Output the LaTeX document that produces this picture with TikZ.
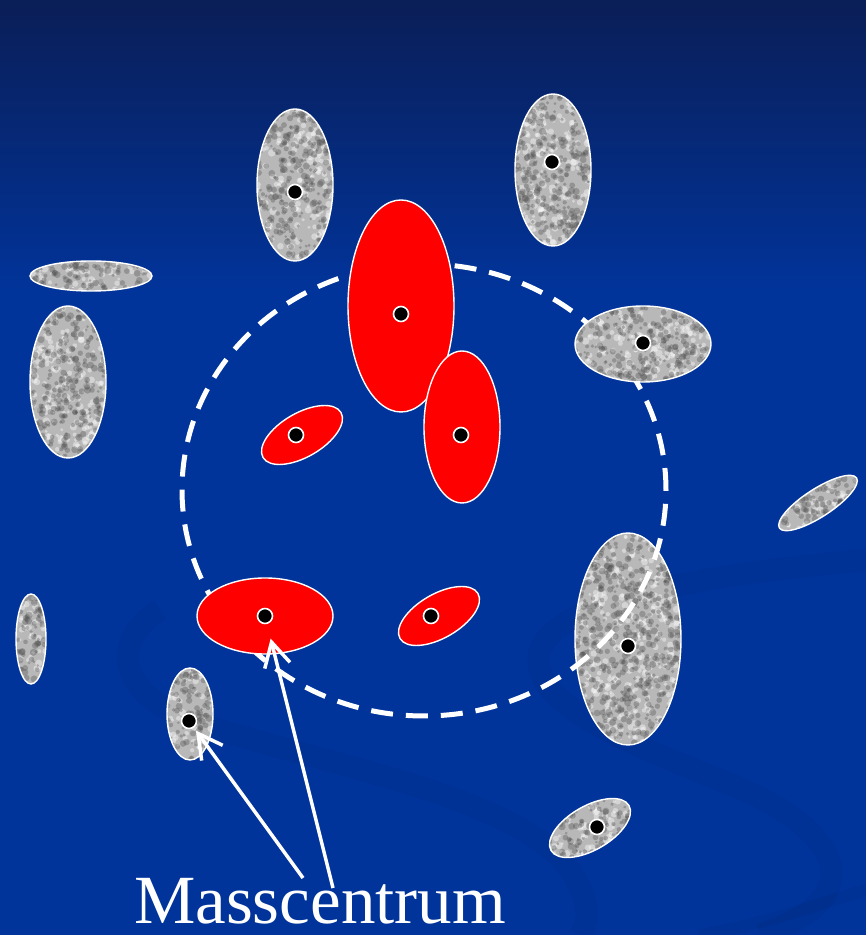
\documentclass[tikz,border=0pt]{standalone}
\usepackage{fontspec}
\setmainfont{Liberation Serif}
\usetikzlibrary{arrows.meta}
\definecolor{bgtop}{HTML}{0A1E57}
\definecolor{bgblue}{HTML}{01349B}
\definecolor{swirlc}{HTML}{002A82}
\definecolor{grbase}{HTML}{B8B8B8}
\definecolor{grdark}{HTML}{505050}
\definecolor{redfill}{HTML}{FF0000}
\tikzset{
  dotnode/.style={circle, fill=black, draw=white, line width=1.6pt, minimum size=15pt, inner sep=0pt},
  arr/.style={white, line width=3.5pt, -{Straight Barb[length=24pt,width=26pt]}},
  ellborder/.style={white, line width=1.4pt},
  swirl/.style={swirlc, opacity=.28, line width=22pt},
}
\newcommand\grayell[5]{%
  \begin{scope}[shift={(#1,935-#2)},rotate=#5]
    \begin{scope}
      \clip (0,0) ellipse ({#3pt} and {#4pt});
      \fill[grbase] (-#3,-#4) rectangle (#3,#4);
      \pgfmathtruncatemacro\nd{#3*#4/9}
      \pgfmathtruncatemacro\nl{#3*#4/16}
      \foreach \k in {1,...,\nl}{\fill[white,opacity=.4] ({#3*rand},{#4*rand}) circle ({(1.5+2.2*rnd)*1pt});}
      \foreach \k in {1,...,\nd}{\fill[grdark,opacity=.35] ({#3*rand},{#4*rand}) circle ({(1.4+2.2*rnd)*1pt});}
    \end{scope}
    \draw[ellborder] (0,0) ellipse ({#3pt} and {#4pt});
  \end{scope}}
\newcommand\redell[5]{%
  \begin{scope}[shift={(#1,935-#2)},rotate=#5]
    \draw[ellborder, fill=redfill] (0,0) ellipse ({#3pt} and {#4pt});
  \end{scope}}
\begin{document}
\begin{tikzpicture}[x=1pt,y=1pt]
\useasboundingbox (0,0) rectangle (866,935);
\pgfmathsetseed{7}
% background
\fill[bgblue] (0,0) rectangle (866,935);
\shade[top color=bgtop, bottom color=bgblue] (0,935) rectangle (866,640);
\begin{scope}
\clip (0,0) rectangle (866,935);
\draw[swirl] (160,325) .. controls (110,295) and (110,235) .. (220,205)
   .. controls (350,165) and (520,135) .. (570,65) .. controls (590,35) and (590,15) .. (580,0);
\draw[swirl] (866,375) .. controls (700,360) and (560,335) .. (540,285)
   .. controls (525,235) and (620,195) .. (720,155) .. controls (850,105) and (870,35) .. (760,0);
\draw[swirl, line width=12pt] (866,45) .. controls (800,25) and (760,10) .. (700,0);
\end{scope}
% gray bodies below the dashed circle
\grayell{295}{185}{38}{76}{0}
\grayell{553}{170}{38}{76}{0}
\grayell{91}{276}{61}{15}{0}
\grayell{68}{382}{38}{76}{0}
\grayell{818}{503}{46}{14}{33}
\grayell{628}{639}{53}{106}{0}
\grayell{31}{639}{15}{45}{0}
\grayell{190}{714}{23}{46}{0}
\grayell{590}{828}{45}{22}{30}
% dashed circle
\draw[white, line width=5pt, dash pattern=on 22pt off 13pt] (424,935-490) ellipse (242pt and 226pt);
% gray body above circle
\grayell{643}{344}{68}{38}{0}
% red bodies
\redell{401}{306}{53}{106}{0}
\redell{462}{427}{38}{76}{0}
\redell{302}{435}{45}{22}{30}
\redell{265}{616}{68}{38}{0}
\redell{439}{616}{45}{22}{30}
% centres of mass
\node[dotnode] (d1) at (295,935-192) {};
\node[dotnode] (d2) at (552,935-162) {};
\node[dotnode] (d5) at (401,935-314) {};
\node[dotnode] (d6) at (461,935-435) {};
\node[dotnode] (d7) at (296,935-435) {};
\node[dotnode] (d8) at (643,935-343) {};
\node[dotnode] (d10) at (265,935-616) {};
\node[dotnode] (d11) at (431,935-616) {};
\node[dotnode] (d12) at (628,935-646) {};
\node[dotnode] (d14) at (189,935-721) {};
\node[dotnode] (d15) at (597,935-827) {};
% label and arrows
\node[text=white, font=\fontsize{69}{80}\selectfont, anchor=base, inner sep=0pt] (lbl) at (320,12) {Masscentrum};
\coordinate (s1) at (303,935-878);
\coordinate (s2) at (333,935-888);
\draw[arr, shorten >=3.5pt] (s1) -- (d14);
\draw[arr, shorten >=15pt] (s2) -- (d10);
\end{tikzpicture}
\end{document}
